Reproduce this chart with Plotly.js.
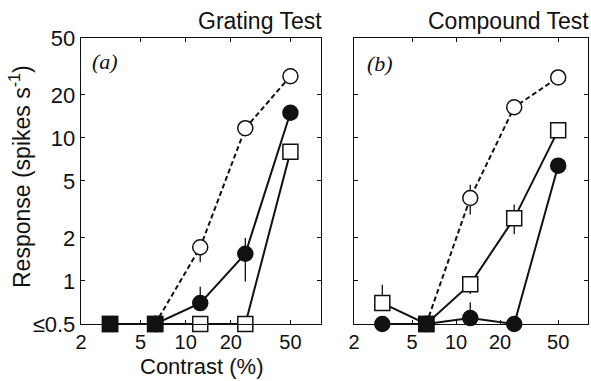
<!DOCTYPE html>
<html><head><meta charset="utf-8">
<script src="https://cdn.plot.ly/plotly-3.0.1.min.js"></script>
<style>html,body{margin:0;padding:0;background:#fff}#chart{width:591px;height:381px}</style>
</head><body><div id="chart"></div>
<script>
// Contrast levels (%)
const contrast = [3.125, 6.25, 12.5, 25, 50];
const contrastFromFloor = [6.25, 12.5, 25, 50];

// Panel (a) Grating Test
const aOpenSq = [0.5, 0.5, 0.5, 0.5, 8.0];
const aFilledCirc = [0.5, 0.7, 1.55, 15];
const aFilledCircErrPlus = [0, 0.21, 0.45, 0];
const aFilledCircErrMinus = [0, 0.08, 0.56, 0];
const aOpenCirc = [0.5, 1.72, 11.7, 27];
const aOpenCircErrPlus = [0, 0.2, 0, 0];
const aOpenCircErrMinus = [0, 0.37, 0, 0];
const aFloorX = [3.125, 6.25];
const aFloorY = [0.5, 0.5];

// Panel (b) Compound Test
const bOpenSq = [0.7, 0.5, 0.95, 2.74, 11.3];
const bOpenSqErrPlus = [0.24, 0, 0.1, 0.68, 0];
const bOpenSqErrMinus = [0.08, 0, 0.14, 0.62, 0];
const bFilledCirc = [0.5, 0.5, 0.55, 0.5, 6.4];
const bFilledCircErrPlus = [0, 0, 0.16, 0, 0];
const bOpenCirc = [0.5, 3.8, 16.4, 26.5];
const bOpenCircErrPlus = [0, 0.9, 0, 0];
const bOpenCircErrMinus = [0, 0.88, 0, 0];
const bFloorX = [6.25];
const bFloorY = [0.5];

const yTickVals = [0.5, 1, 2, 5, 10, 20, 50];
const yTickText = ['≤0.5', '1', '2', '5', '10', '20', '50'];
const xTickVals = [2, 5, 10, 20, 50];
const xTickText = ['2', '5', '10', '20', '50'];

const K = '#111';
function eb(plus, minus){
  return {type:'data', symmetric:false, array:plus, arrayminus:minus||plus.map(()=>0), color:K, thickness:1.3, width:0, visible:true};
}
function tr(x, y, ax, sym, fill, dash, err){
  const t = {x:x, y:y, xaxis:ax[0], yaxis:ax[1], mode:'lines+markers', cliponaxis:false,
    line:{color:K, width:2, dash:dash||'solid'},
    marker:{symbol:sym, size:15, color:fill, line:{color:K, width:1.5}},
    hoverinfo:'skip', showlegend:false};
  if (err) t.error_y = err;
  return t;
}
const A = ['x','y'], B = ['x2','y2'];
const data = [
  tr(contrast, aOpenSq, A, 'square', '#fff'),
  tr(contrastFromFloor, aFilledCirc, A, 'circle', K, 'solid', eb(aFilledCircErrPlus, aFilledCircErrMinus)),
  tr(contrastFromFloor, aOpenCirc, A, 'circle', '#fff', '5px,3px', eb(aOpenCircErrPlus, aOpenCircErrMinus)),
  tr(aFloorX, aFloorY, A, 'square', K),
  tr(contrast, bFilledCirc, B, 'circle', K, 'solid', eb(bFilledCircErrPlus)),
  tr(contrast, bOpenSq, B, 'square', '#fff', 'solid', eb(bOpenSqErrPlus, bOpenSqErrMinus)),
  tr(contrastFromFloor, bOpenCirc, B, 'circle', '#fff', '5px,3px', eb(bOpenCircErrPlus, bOpenCircErrMinus)),
  tr(bFloorX, bFloorY, B, 'square', K)
];
data[3].mode = 'markers';
data[7].mode = 'markers';

const fontF = 'Liberation Sans, Arial, sans-serif';
const FS = 22, XFS = 20, TS = 23;
const xr = [Math.log10(2), Math.log10(80)];
const yr = [Math.log10(0.5), Math.log10(50)];
function xax(dom, anchor){
  return {type:'log', range:xr, domain:dom, anchor:anchor, tickvals:xTickVals, ticktext:xTickText,
    ticks:'inside', ticklen:4, tickwidth:1, tickcolor:K, showline:true, linecolor:K, linewidth:1.3,
    mirror:'ticks', showgrid:false, zeroline:false, tickfont:{family:fontF, size:XFS, color:K}, automargin:false};
}
function yax(anchor, labels){
  return {type:'log', range:yr, domain:[0.1496, 0.9003], anchor:anchor, tickvals:yTickVals, ticktext:yTickText,
    showticklabels:labels, ticks:'inside', ticklen:4, tickwidth:1, tickcolor:K, showline:true, linecolor:K, linewidth:1.3,
    mirror:'ticks', showgrid:false, zeroline:false, tickfont:{family:fontF, size:FS, color:K}, automargin:false};
}
const layout = {
  width:591, height:381, margin:{l:0, r:0, t:0, b:0},
  paper_bgcolor:'#fff', plot_bgcolor:'#fff',
  xaxis: xax([81/591, 321/591], 'y'),
  yaxis: yax('x', true),
  xaxis2: xax([354/591, 588/591], 'y2'),
  yaxis2: yax('x2', false),
  annotations: [
    {text:'Grating Test', xref:'paper', yref:'paper', x:324/591, y:1-21/381, xanchor:'right', yanchor:'middle', showarrow:false, font:{family:fontF, size:TS, color:K}},
    {text:'Compound Test', xref:'paper', yref:'paper', x:591/591, y:1-21/381, xanchor:'right', yanchor:'middle', showarrow:false, font:{family:fontF, size:TS, color:K}},
    {text:'<i>(a)</i>', xref:'paper', yref:'paper', x:90/591, y:1-62/381, xanchor:'left', yanchor:'middle', showarrow:false, font:{family:'Liberation Serif, Times New Roman, serif', size:22, color:K}},
    {text:'<i>(b)</i>', xref:'paper', yref:'paper', x:365/591, y:1-63/381, xanchor:'left', yanchor:'middle', showarrow:false, font:{family:'Liberation Serif, Times New Roman, serif', size:22, color:K}},
    {text:'Response (spikes s<sup>-1</sup>)', xref:'paper', yref:'paper', x:20/591, y:1-177/381, xanchor:'center', yanchor:'middle', textangle:-90, showarrow:false, font:{family:fontF, size:TS, color:K}},
    {text:'Contrast (%)', xref:'paper', yref:'paper', x:201/591, y:0, xanchor:'center', yanchor:'bottom', showarrow:false, font:{family:fontF, size:22, color:K}}
  ]
};
Plotly.newPlot('chart', data, layout, {staticPlot:true});
</script></body></html>
